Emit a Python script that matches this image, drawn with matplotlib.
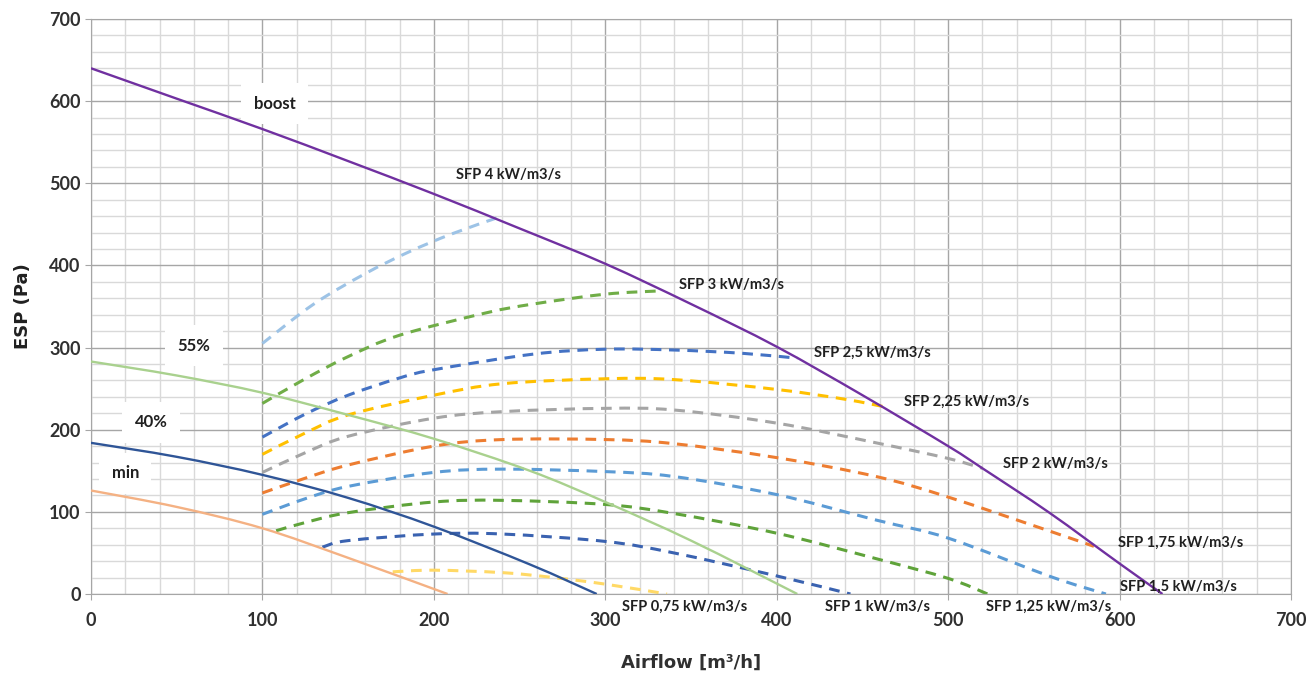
import matplotlib.pyplot as plt
from matplotlib.path import Path
from matplotlib.patches import PathPatch
from matplotlib.ticker import MultipleLocator

# -----------------------------------------------------------------------------
# data

# fan curves (solid)
boost_x = [0, 50, 100, 150, 200, 250, 300, 350, 400, 450, 500, 520, 559, 600, 625]
boost_y = [640, 603, 566, 527, 487, 445, 402, 353, 301, 242, 180, 153, 99, 37, 0]

p55_x = [0, 50, 100, 150, 200, 256, 300, 350, 412]
p55_y = [283, 266, 245, 218, 189, 150, 112, 65, 0]

p40_x = [0, 50, 100, 150, 200, 256, 295]
p40_y = [184, 167, 145, 117, 82, 36, 0]

min_x = [0, 50, 100, 150, 208]
min_y = [126, 106, 80, 44, 0]

# SFP iso-lines (dashed)
sfp4_x = [100, 130, 160, 185, 210, 237]
sfp4_y = [305, 353, 390, 416, 438, 458]

sfp3_x = [100, 125, 150, 180, 230, 258, 300, 332]
sfp3_y = [232, 262, 289, 315, 342, 353, 365, 369]

sfp25_x = [100, 125, 150, 180, 200, 258, 300, 340, 380, 412]
sfp25_y = [191, 219, 242, 263, 273, 292, 298, 297, 293, 287]

sfp225_x = [100, 125, 150, 200, 240, 300, 340, 400, 440, 465]
sfp225_y = [170, 196, 218, 242, 256, 262, 261, 249, 237, 227]

sfp2_x = [100, 125, 150, 200, 240, 300, 340, 400, 458, 500, 520]
sfp2_y = [148, 172, 192, 214, 222, 226, 224, 208, 184, 165, 153]

sfp175_x = [100, 125, 150, 200, 240, 300, 340, 400, 458, 500, 560, 585]
sfp175_y = [123, 141, 157, 180, 188, 188, 183, 166, 143, 118, 76, 58]

sfp15_x = [100, 125, 150, 200, 240, 300, 340, 400, 458, 500, 560, 592]
sfp15_y = [97, 116, 131, 148, 152, 149, 143, 121, 90, 68, 21, 0]

sfp125_x = [108, 125, 150, 200, 240, 300, 340, 400, 458, 500, 523]
sfp125_y = [77, 87, 99, 112, 114, 109, 98, 74, 43, 19, 0]

sfp1_x = [135, 150, 200, 240, 300, 340, 400, 443]
sfp1_y = [57, 65, 73, 73, 64, 50, 22, 0]

sfp075_x = [176, 200, 240, 270, 300, 336]
sfp075_y = [27, 29, 26, 20, 12, 0]

fan_labels = ['boost', '55%', '40%', 'min']
sfp_labels = ['SFP 4 kW/m3/s', 'SFP 3 kW/m3/s', 'SFP 2,5 kW/m3/s',
              'SFP 2,25 kW/m3/s', 'SFP 2 kW/m3/s', 'SFP 1,75 kW/m3/s',
              'SFP 1,5 kW/m3/s', 'SFP 1,25 kW/m3/s', 'SFP 1 kW/m3/s',
              'SFP 0,75 kW/m3/s']

# -----------------------------------------------------------------------------
# helper: smoothed line through the points (like Excel "smoothed line")

def smooth_line(ax, x, y, **kw):
    n = len(x)
    verts = [(x[0], y[0])]
    codes = [Path.MOVETO]
    for i in range(n - 1):
        x0, y0 = (x[i - 1], y[i - 1]) if i > 0 else (x[i], y[i])
        x3, y3 = (x[i + 2], y[i + 2]) if i < n - 2 else (x[i + 1], y[i + 1])
        c1 = (x[i] + (x[i + 1] - x0) / 6, y[i] + (y[i + 1] - y0) / 6)
        c2 = (x[i + 1] - (x3 - x[i]) / 6, y[i + 1] - (y3 - y[i]) / 6)
        verts += [c1, c2, (x[i + 1], y[i + 1])]
        codes += [Path.CURVE4] * 3
    patch = PathPatch(Path(verts, codes), fill=False, capstyle='butt', **kw)
    ax.add_patch(patch)

# -----------------------------------------------------------------------------
# plot

plt.rcParams['font.family'] = ['Lato', 'DejaVu Sans']

fig = plt.figure(figsize=(13.07, 6.75), dpi=100)
ax = fig.add_axes([0.0696, 0.12, 0.9182, 0.8519])

fans = [(boost_x, boost_y, '#7030A0'),
        (p55_x, p55_y, '#A9D18E'),
        (p40_x, p40_y, '#2F5597'),
        (min_x, min_y, '#F4B183')]
for x, y, c in fans:
    smooth_line(ax, x, y, edgecolor=c, lw=1.7, zorder=3)

sfps = [(sfp4_x, sfp4_y, '#9DC3E6'),
        (sfp3_x, sfp3_y, '#70AD47'),
        (sfp25_x, sfp25_y, '#4472C4'),
        (sfp225_x, sfp225_y, '#FFC000'),
        (sfp2_x, sfp2_y, '#A5A5A5'),
        (sfp175_x, sfp175_y, '#ED7D31'),
        (sfp15_x, sfp15_y, '#5B9BD5'),
        (sfp125_x, sfp125_y, '#5FA33A'),
        (sfp1_x, sfp1_y, '#3A62B0'),
        (sfp075_x, sfp075_y, '#FFD966')]
for x, y, c in sfps:
    smooth_line(ax, x, y, edgecolor=c, lw=2.2, ls=(0, (3.5, 2.5)), zorder=2)

# fan curve labels with white boxes
fan_pos = [(107, 597), (60, 302), (35, 209), (20, 147)]
for t, (x, y) in zip(fan_labels, fan_pos):
    ax.text(x, y, t, ha='center', va='center', fontsize=12, fontweight='bold',
            color='#202020', zorder=1.5,
            bbox=dict(boxstyle='square,pad=0.75', fc='white', ec='none'))

# SFP labels
sfp_pos = [(213, 510), (343, 376), (422, 294), (474, 234), (532, 158),
           (599, 62), (600, 9), (522, -16), (428, -16), (310, -15)]
for t, (x, y) in zip(sfp_labels, sfp_pos):
    ax.text(x, y, t, ha='left', va='center', fontsize=10.5, fontweight='bold',
            color='#202020', clip_on=False, zorder=5)

ax.set_xlim(0, 700)
ax.set_ylim(0, 700)
ax.xaxis.set_major_locator(MultipleLocator(100))
ax.xaxis.set_minor_locator(MultipleLocator(20))
ax.yaxis.set_major_locator(MultipleLocator(100))
ax.yaxis.set_minor_locator(MultipleLocator(20))
ax.grid(which='major', color='#A6A6A6', lw=1.0)
ax.grid(which='minor', color='#D9D9D9', lw=1.0)
ax.set_axisbelow(True)
ax.tick_params(which='major', length=4, color='#A6A6A6', labelsize=13,
               labelcolor='#303030')
ax.tick_params(which='minor', length=0)
ax.tick_params(axis='x', pad=9)
for lab in ax.get_xticklabels() + ax.get_yticklabels():
    lab.set_fontweight('bold')
for s in ax.spines.values():
    s.set_color('#A6A6A6')

ax.set_xlabel('Airflow [m³/h]', fontsize=13, fontweight='bold', color='#303030',
              family='DejaVu Sans', labelpad=18)
ax.set_ylabel('ESP (Pa)', fontsize=13, fontweight='bold', color='#202020',
              family='DejaVu Sans', labelpad=12)

fig.savefig('out.png', dpi=100)
